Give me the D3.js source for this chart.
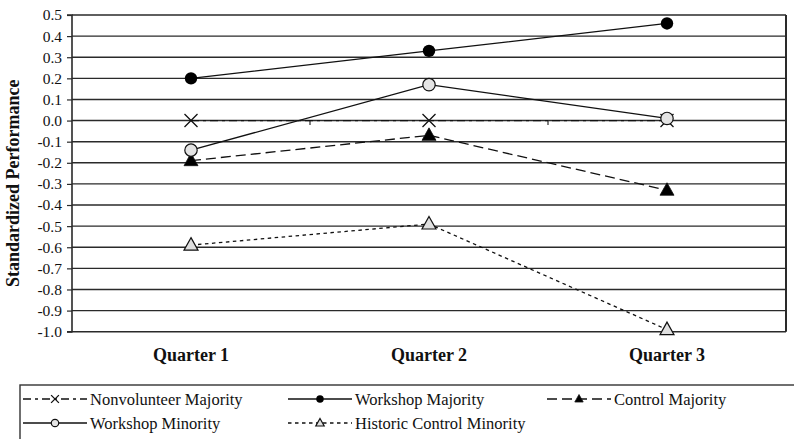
<!DOCTYPE html>
<html>
<head>
<meta charset="utf-8">
<script src="https://cdn.jsdelivr.net/npm/d3@7"></script>
<style>
  html, body { margin: 0; padding: 0; background: #fff; }
  svg { display: block; }
  text { font-family: "Liberation Serif", "Times New Roman", serif; fill: #111; }
</style>
</head>
<body>
<svg id="chart" width="794" height="439"></svg>
<script>
// ---- data ----
const categories = ["Quarter 1", "Quarter 2", "Quarter 3"];
const nonvolunteerMajority = [0.00, 0.00, 0.00];
const workshopMajority = [0.20, 0.33, 0.46];
const controlMajority = [-0.19, -0.07, -0.33];
const workshopMinority = [-0.14, 0.17, 0.01];
const historicControlMinority = [-0.59, -0.49, -0.99];
const yTicks = [0.5, 0.4, 0.3, 0.2, 0.1, 0.0, -0.1, -0.2, -0.3, -0.4, -0.5, -0.6, -0.7, -0.8, -0.9, -1.0];
const yTitle = "Standardized Performance";

const seriesNames = ["Nonvolunteer Majority", "Workshop Majority", "Control Majority", "Workshop Minority", "Historic Control Minority"];

// series styling (draw order: nonvolunteer first so others overlay it)
const series = [
  { name: seriesNames[0], values: nonvolunteerMajority, dash: "8,4,3,4", marker: "x" },
  { name: seriesNames[1], values: workshopMajority, dash: null, marker: "dot" },
  { name: seriesNames[2], values: controlMajority, dash: "10,5", marker: "tri" },
  { name: seriesNames[3], values: workshopMinority, dash: null, marker: "circle" },
  { name: seriesNames[4], values: historicControlMinority, dash: "3.5,3.5", marker: "otri" }
];

const svg = d3.select("#chart");
const plotL = 72, plotR = 786, plotT = 15, plotB = 331.7;

const x = d3.scaleBand().domain(categories).range([plotL, plotR]).padding(0);
const cx = c => x(c) + x.bandwidth() / 2;
const y = d3.scaleLinear().domain([-1.0, 0.5]).range([plotB, plotT]);

const gridColor = "#2a2a2a";

// gridlines
svg.append("g").selectAll("line").data(yTicks).join("line")
  .attr("x1", plotL).attr("x2", plotR)
  .attr("y1", d => y(d)).attr("y2", d => y(d))
  .attr("stroke", gridColor).attr("stroke-width", 1.4);

// right border
svg.append("line").attr("x1", plotR).attr("x2", plotR).attr("y1", plotT).attr("y2", plotB)
  .attr("stroke", gridColor).attr("stroke-width", 2);

// y axis
const yAxis = d3.axisLeft(y).tickValues(yTicks).tickSize(5).tickPadding(5)
  .tickFormat(d => (Math.abs(d) < 1e-9 ? 0 : d).toFixed(1));
const gy = svg.append("g").attr("transform", `translate(${plotL},0)`).call(yAxis);
gy.select(".domain").attr("stroke", gridColor).attr("stroke-width", 1.6).attr("d", `M-5,${plotT}H0V${plotB}H-5`);
gy.selectAll(".tick line").attr("stroke", gridColor).attr("stroke-width", 1.2);
gy.selectAll(".tick text").attr("font-family", "Liberation Serif, serif").attr("font-size", 15.5).attr("fill", "#111");

// category tick marks on the zero line
const boundaries = categories.slice(1).map(c => x(c));
svg.append("g").selectAll("line").data(boundaries).join("line")
  .attr("x1", d => d).attr("x2", d => d)
  .attr("y1", y(0)).attr("y2", y(0) + 4.5)
  .attr("stroke", gridColor).attr("stroke-width", 1.2);

// x category labels
svg.append("g").selectAll("text").data(categories).join("text")
  .attr("x", d => cx(d)).attr("y", 361)
  .attr("text-anchor", "middle")
  .attr("font-weight", "bold").attr("font-size", 18)
  .text(d => d);

// y title
svg.append("text")
  .attr("transform", `translate(19,${(plotT + plotB) / 2 + 10}) rotate(-90)`)
  .attr("text-anchor", "middle")
  .attr("font-weight", "bold").attr("font-size", 18)
  .text(yTitle);

// marker drawing
function drawMarker(g, type, px, py, s) {
  if (type === "x") {
    const h = 6.5 * s;
    g.append("path").attr("d", `M${px - h},${py - h}L${px + h},${py + h}M${px - h},${py + h}L${px + h},${py - h}`)
      .attr("stroke", "#111").attr("stroke-width", 1.3).attr("fill", "none");
  } else if (type === "dot") {
    g.append("circle").attr("cx", px).attr("cy", py).attr("r", 6.2 * s).attr("fill", "#000");
  } else if (type === "circle") {
    g.append("circle").attr("cx", px).attr("cy", py).attr("r", 6.2 * s)
      .attr("fill", "#e4e4e4").attr("stroke", "#111").attr("stroke-width", 1.2);
  } else if (type === "tri" || type === "otri") {
    const w = 7 * s, hTop = 7.5 * s, hBot = 5 * s;
    g.append("path").attr("d", `M${px},${py - hTop}L${px + w},${py + hBot}L${px - w},${py + hBot}Z`)
      .attr("fill", type === "tri" ? "#000" : "#e0e0e0")
      .attr("stroke", "#111").attr("stroke-width", type === "tri" ? 0.8 : 1.2);
  }
}

const line = d3.line().x(d => cx(d.c)).y(d => y(d.v));

series.forEach(s => {
  const pts = categories.map((c, i) => ({ c, v: s.values[i] }));
  const g = svg.append("g");
  g.append("path").attr("d", line(pts))
    .attr("fill", "none").attr("stroke", "#111").attr("stroke-width", 1.3)
    .attr("stroke-dasharray", s.dash);
  pts.forEach(p => drawMarker(g, s.marker, cx(p.c), y(p.v), 1));
});

// legend
const lg = svg.append("g");
lg.append("rect").attr("x", 20).attr("y", 385).attr("width", 800).attr("height", 80)
  .attr("fill", "none").attr("stroke", "#333").attr("stroke-width", 1.4);

const legendPos = [
  { col: 23, row: 399 },
  { col: 288, row: 399 },
  { col: 547, row: 399 },
  { col: 23, row: 423 },
  { col: 288, row: 423 }
];
series.forEach((s, i) => {
  const p = legendPos[i];
  const g = lg.append("g");
  g.append("line").attr("x1", p.col).attr("x2", p.col + 64).attr("y1", p.row).attr("y2", p.row)
    .attr("stroke", "#111").attr("stroke-width", 1.3).attr("stroke-dasharray", s.dash);
  drawMarker(g, s.marker, p.col + 32, p.row, 0.6);
  g.append("text").attr("x", p.col + 67).attr("y", p.row + 5.5)
    .attr("font-size", 16.5).text(s.name);
});
</script>
</body>
</html>
